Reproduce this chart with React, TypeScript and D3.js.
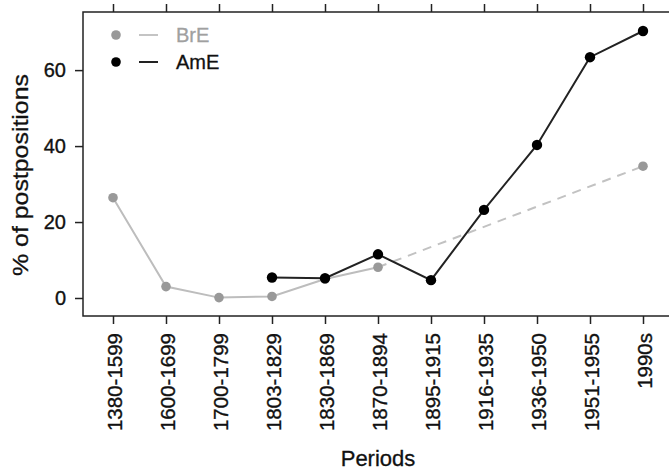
import React, { useEffect, useRef } from "react";
import * as d3 from "d3";

const periods = [
  "1380-1599",
  "1600-1699",
  "1700-1799",
  "1803-1829",
  "1830-1869",
  "1870-1894",
  "1895-1915",
  "1916-1935",
  "1936-1950",
  "1951-1955",
  "1990s",
];

// null = no data for that period
const brE = [26.4, 3.0, 0.1, 0.4, 5.0, 8.1, null, null, null, null, 34.7];
const amE = [null, null, null, 5.4, 5.2, 11.5, 4.7, 23.2, 40.3, 63.4, 70.3];

const yTicks = [0, 20, 40, 60];

const FONT = "'Liberation Sans', Arial, Helvetica, sans-serif";

function App() {
  const svgRef = useRef(null);

  useEffect(() => {
    const svg = d3.select(svgRef.current);
    svg.selectAll("*").remove();

    const left = 83;
    const right = 673;
    const top = 12;
    const bottom = 316;

    const xScale = d3
      .scaleLinear()
      .domain([-0.566, periods.length - 1 + 0.566])
      .range([left, right]);
    const yScale = d3.scaleLinear().domain([-4.74, 75.3]).range([bottom, top]);

    // frame (right side falls outside the picture)
    svg
      .append("rect")
      .attr("x", left)
      .attr("y", top)
      .attr("width", right - left)
      .attr("height", bottom - top)
      .attr("fill", "none")
      .attr("stroke", "#222")
      .attr("stroke-width", 1.5);

    // y axis
    const yAxis = d3.axisLeft(yScale).tickValues(yTicks).tickSize(8).tickPadding(9);
    const gy = svg.append("g").attr("transform", `translate(${left},0)`).call(yAxis);
    gy.select(".domain").remove();
    gy.selectAll(".tick line").attr("stroke", "#222").attr("stroke-width", 1.5);
    gy.selectAll(".tick text")
      .attr("font-family", FONT)
      .attr("font-size", 20)
      .attr("fill", "#111")
      .attr("stroke", "#111")
      .attr("stroke-width", 0.35);

    // bottom axis
    const idx = d3.range(periods.length);
    const xAxis = d3
      .axisBottom(xScale)
      .tickValues(idx)
      .tickSize(8)
      .tickFormat((i) => periods[i]);
    const gx = svg.append("g").attr("transform", `translate(0,${bottom})`).call(xAxis);
    gx.select(".domain").remove();
    gx.selectAll(".tick line").attr("stroke", "#222").attr("stroke-width", 1.5);
    gx.selectAll(".tick text")
      .attr("font-family", FONT)
      .attr("font-size", 20.5)
      .attr("fill", "#111")
      .attr("stroke", "#111")
      .attr("stroke-width", 0.35)
      .attr("text-anchor", "end")
      .attr("transform", "translate(1,17) rotate(-90)")
      .attr("x", 0)
      .attr("y", 0)
      .attr("dy", "0.36em");

    // top ticks
    const xTop = d3.axisTop(xScale).tickValues(idx).tickSize(8).tickFormat(() => "");
    const gt = svg.append("g").attr("transform", `translate(0,${top})`).call(xTop);
    gt.select(".domain").remove();
    gt.selectAll(".tick line").attr("stroke", "#222").attr("stroke-width", 1.5);

    // axis titles
    svg
      .append("text")
      .attr("x", (left + right) / 2)
      .attr("y", 466)
      .attr("text-anchor", "middle")
      .attr("font-family", FONT)
      .attr("font-size", 22)
      .attr("fill", "#111")
      .attr("stroke", "#111")
      .attr("stroke-width", 0.3)
      .text("Periods");

    svg
      .append("text")
      .attr("transform", `translate(28,175) rotate(-90)`)
      .attr("text-anchor", "middle")
      .attr("font-family", FONT)
      .attr("font-size", 22)
      .attr("textLength", 202)
      .attr("lengthAdjust", "spacingAndGlyphs")
      .attr("fill", "#111")
      .attr("stroke", "#111")
      .attr("stroke-width", 0.3)
      .text("% of postpositions");

    const pts = (arr) =>
      arr.map((v, i) => ({ i, v })).filter((d) => d.v !== null);

    const line = d3
      .line()
      .x((d) => xScale(d.i))
      .y((d) => yScale(d.v));

    // BrE solid part (up to 1870-1894) and dashed bridge over the gap
    const brPts = pts(brE);
    const solidBr = brPts.filter((d) => d.i <= 5);
    const dashBr = brPts.filter((d) => d.i >= 5);

    svg
      .append("path")
      .attr("d", line(solidBr))
      .attr("fill", "none")
      .attr("stroke", "#bdbdbd")
      .attr("stroke-width", 2);
    svg
      .append("path")
      .attr("d", line(dashBr))
      .attr("fill", "none")
      .attr("stroke", "#c2c2c2")
      .attr("stroke-width", 2)
      .attr("stroke-dasharray", "9,7");
    svg
      .selectAll(".brpt")
      .data(brPts)
      .enter()
      .append("circle")
      .attr("cx", (d) => xScale(d.i))
      .attr("cy", (d) => yScale(d.v))
      .attr("r", 4.8)
      .attr("fill", "#999");

    // AmE
    const amPts = pts(amE);
    svg
      .append("path")
      .attr("d", line(amPts))
      .attr("fill", "none")
      .attr("stroke", "#222")
      .attr("stroke-width", 2);
    svg
      .selectAll(".ampt")
      .data(amPts)
      .enter()
      .append("circle")
      .attr("cx", (d) => xScale(d.i))
      .attr("cy", (d) => yScale(d.v))
      .attr("r", 5.2)
      .attr("fill", "#000");

    // legend
    const legend = [
      { name: "BrE", pt: "#999", ln: "#c4c4c4", txt: "#a0a0a0", y: 35 },
      { name: "AmE", pt: "#000", ln: "#222", txt: "#111", y: 62 },
    ];
    const lg = svg.append("g");
    legend.forEach((d) => {
      lg.append("circle").attr("cx", 116).attr("cy", d.y).attr("r", 4.8).attr("fill", d.pt);
      lg.append("line")
        .attr("x1", 139)
        .attr("x2", 158)
        .attr("y1", d.y)
        .attr("y2", d.y)
        .attr("stroke", d.ln)
        .attr("stroke-width", 2);
      lg.append("text")
        .attr("x", 176)
        .attr("y", d.y)
        .attr("dy", "0.36em")
        .attr("font-family", FONT)
        .attr("font-size", 20)
        .attr("fill", d.txt)
        .attr("stroke", d.txt)
        .attr("stroke-width", 0.3)
        .text(d.name);
    });
  }, []);

  return (
    <div style={{ position: "absolute", left: 0, top: 0 }}>
      <svg ref={svgRef} width={669} height={472} style={{ display: "block", background: "#fff" }} />
    </div>
  );
}

export default App;
